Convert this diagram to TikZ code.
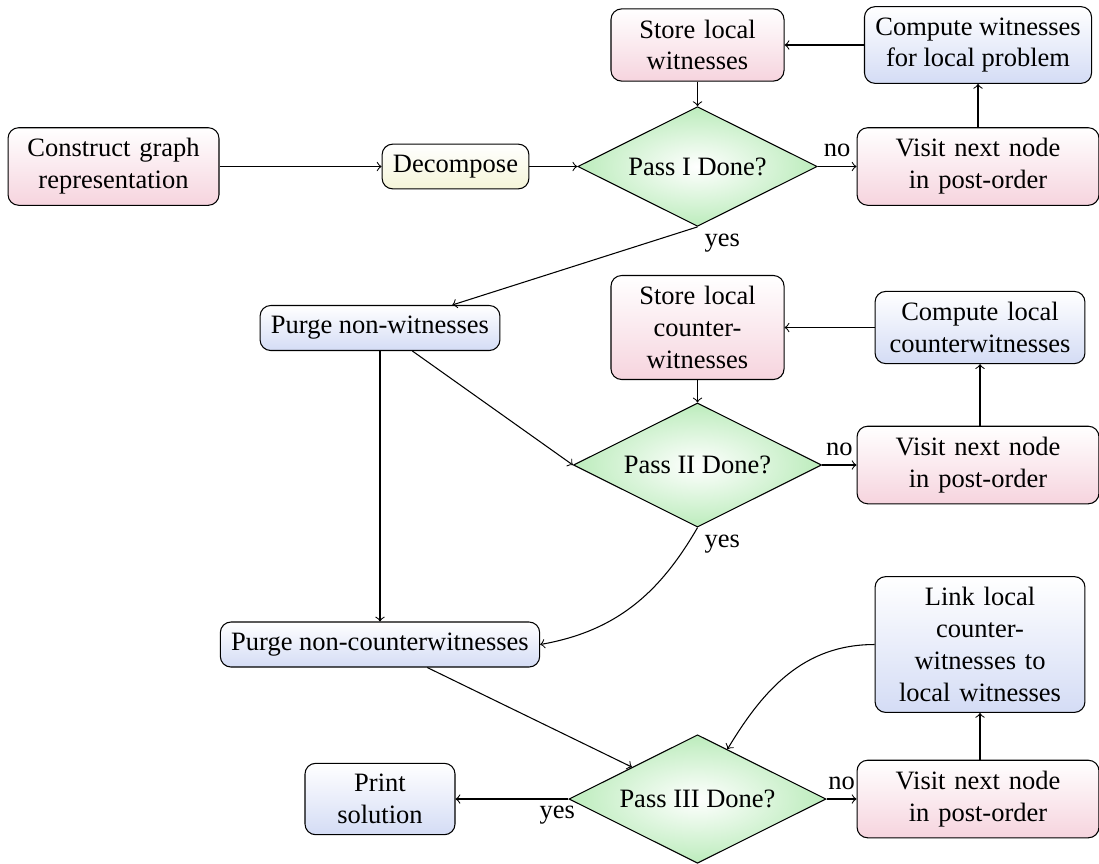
\documentclass[tikz,border=0pt]{standalone}
\usepackage{fontspec}
\setmainfont{Liberation Serif}
\usetikzlibrary{shapes.geometric}

\definecolor{pinkb}{RGB}{246,212,222}
\definecolor{blueb}{RGB}{212,220,245}
\definecolor{yellowb}{RGB}{245,245,216}
\definecolor{greeno}{RGB}{188,236,188}

\tikzset{
  box/.style={rectangle, draw, rounded corners, inner sep=4.1pt, align=center},
  pinkbox/.style={box, top color=white, bottom color=pinkb},
  bluebox/.style={box, top color=white, bottom color=blueb},
  yellowbox/.style={box, top color=white, bottom color=yellowb},
  decision/.style={diamond, draw, shape aspect=2, inner sep=4.1pt,
                   inner color=white, outer color=greeno},
  flow/.style={draw, ->},
  lbl/.style={inner sep=2.5pt},
}

\begin{document}
\begin{tikzpicture}[x=0.37736pt, y=-0.37736pt]
\useasboundingbox (0,0) rectangle (1099,863);

% first pass: witnesses
\node[pinkbox, text width=71.4pt] (construct) at (113.5,166.5) {Construct graph\\representation};
\node[yellowbox] (decomp) at (455.5,166.5) {Decompose};
\node[decision] (d1) at (697.5,166.5) {Pass I Done?};
\node[pinkbox, text width=57.1pt] (store1) at (697.5,45) {Store local\\witnesses};
\node[bluebox] (compute1) at (978,45) {Compute witnesses\\for local problem};
\node[pinkbox, text width=83.1pt] (visit1) at (978,166.5) {Visit next node\\in post-order};

% second pass: counterwitnesses
\node[bluebox] (purge1) at (380,328) {Purge non-witnesses};
\node[pinkbox, text width=57.1pt] (store2) at (697.5,327.5) {Store local\\counter-\\witnesses};
\node[bluebox, text width=71pt] (compute2) at (980,327.5) {Compute local\\counterwitnesses};
\node[decision] (d2) at (697.5,465) {Pass II Done?};
\node[pinkbox, text width=83.1pt] (visit2) at (978,465) {Visit next node\\in post-order};

% third pass: linking
\node[bluebox] (purge2) at (380,644.5) {Purge non-counterwitnesses};
\node[bluebox, text width=71pt] (link) at (980,644.5) {Link local\\counter-\\witnesses to\\local witnesses};
\node[decision] (d3) at (697.5,799) {Pass III Done?};
\node[pinkbox, text width=83.1pt] (visit3) at (978,799) {Visit next node\\in post-order};
\node[bluebox, text width=48.4pt] (print) at (380,799) {Print\\solution};

% connectors
\draw[flow] (construct) -- (decomp);
\draw[flow] (decomp) -- (d1);
\draw[flow] (d1) -- node[above]{no} (visit1);
\draw[flow] (visit1) -- (compute1);
\draw[flow] (compute1) -- (store1);
\draw[flow] (store1) -- (d1);
\draw[flow] (d1.south) -- node[pos=0, anchor=north west, lbl]{yes} (purge1);

\draw[flow] (purge1) -- (d2.west);
\draw[flow] (purge1) -- (purge2);
\draw[flow] (d2) -- node[above]{no} (visit2);
\draw[flow] (visit2.north -| compute2) -- (compute2);
\draw[flow] (compute2) -- (store2);
\draw[flow] (store2) -- (d2);
\draw[flow] (d2.south) to[out=-120, in=10] node[pos=0, anchor=north west, lbl]{yes} (purge2.east);

\draw[flow] (purge2) -- (d3);
\draw[flow] (d3) -- node[above]{no} (visit3);
\draw[flow] (visit3.north -| link) -- (link);
\draw[flow] (link.west) to[out=180, in=59] (d3);
\draw[flow] (d3.west) -- node[pos=0.1, below, lbl]{yes} (print.east);
\end{tikzpicture}
\end{document}
